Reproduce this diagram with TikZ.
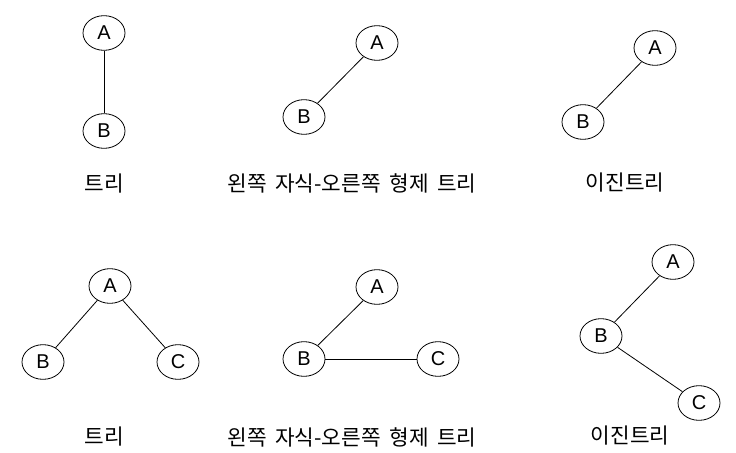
\documentclass[tikz,border=0pt]{standalone}
\usepackage{fontspec}
\setmainfont{Liberation Sans}
\newfontfamily\kor[WordSpace=1.8]{Noto Sans CJK KR}
\usetikzlibrary{shapes.geometric}
\begin{document}
\begin{tikzpicture}[x=0.75pt,y=-0.75pt,
  nd/.style={ellipse,draw,line width=0.6pt,minimum width=31.5pt,minimum height=26pt,inner sep=0pt,font=\fontsize{15}{15}\selectfont},
  edge/.style={line width=0.6pt},
  lab/.style={font=\kor\fontsize{16}{17}\selectfont,inner sep=0pt}]
\useasboundingbox (0,0) rectangle (736,453);
% top row
\node[nd] (a1) at (104,33) {A};
\node[nd] (b1) at (104,131) {B};
\draw[edge] (a1) -- (b1);
\node[lab] (l1) at (104,184) {트리};

\node[nd] (a2) at (377,43) {A};
\node[nd] (b2) at (304,117) {B};
\draw[edge] (a2) -- (b2);
\node[lab] (l2) at (352,183) {왼쪽 자식-오른쪽 형제 트리};

\node[nd] (a3) at (655,48) {A};
\node[nd] (b3) at (583,122) {B};
\draw[edge] (a3) -- (b3);
\node[lab] (l3) at (625,183) {이진트리};

% bottom row
\node[nd] (a4) at (110,286) {A};
\node[nd] (b4) at (43,362) {B};
\node[nd] (c4) at (178,362) {C};
\draw[edge] (a4) -- (b4);
\draw[edge] (a4) -- (c4);
\node[lab] (l4) at (104,437) {트리};

\node[nd] (a5) at (377,287) {A};
\node[nd] (b5) at (304,359) {B};
\node[nd] (c5) at (438,359) {C};
\draw[edge] (a5) -- (b5);
\draw[edge] (b5) -- (c5);
\node[lab] (l5) at (352,437) {왼쪽 자식-오른쪽 형제 트리};

\node[nd] (a6) at (673,262) {A};
\node[nd] (b6) at (601,336) {B};
\node[nd] (c6) at (699,403) {C};
\draw[edge] (a6) -- (b6);
\draw[edge] (b6) -- (c6);
\node[lab] (l6) at (630,436) {이진트리};
\end{tikzpicture}
\end{document}
